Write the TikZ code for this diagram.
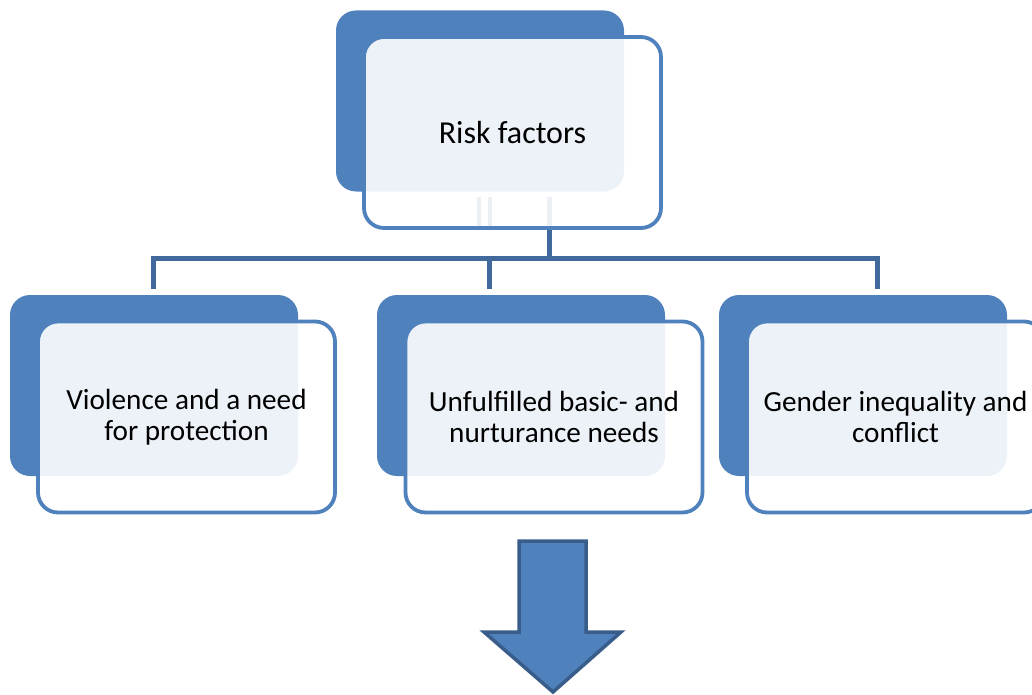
\documentclass[tikz,border=0pt]{standalone}
\usepackage{fontspec}
\setmainfont{Carlito}
\definecolor{accent}{HTML}{4F81BD}
\definecolor{accentdark}{HTML}{385D8A}
\definecolor{linkblue}{HTML}{41699C}
\tikzset{
  backbox/.style={draw=none, fill=accent, rounded corners=20pt,
    minimum width=288pt, minimum height=181pt, inner sep=0pt},
  frontbox/.style={draw=accent, line width=3.8pt, fill=white, fill opacity=0.9,
    text opacity=1, rounded corners=20pt, minimum width=297pt,
    minimum height=191pt, inner sep=0pt, align=center, text=black},
  toptext/.style={font=\fontsize{32}{34}\selectfont},
  childtext/.style={font=\fontsize{29.2}{31}\selectfont},
  conn/.style={draw=linkblue, line width=5pt},
  stub/.style={draw=linkblue, line width=4pt},
}
\begin{document}
\begin{tikzpicture}[x=1pt,y=-1pt]
\useasboundingbox (0,0) rectangle (1032,695);

% tree connectors (drawn first, so the boxes sit on top)
\coordinate (bus) at (549,258);
\coordinate (dropL) at (153,289);
\coordinate (dropM) at (489,289);
\coordinate (dropR) at (877,289);
\draw[conn] (549,197) -- (bus);
\draw[conn] (dropL) |- (dropR |- bus) -- (dropR);
\draw[conn] (dropM |- bus) -- (dropM);
\draw[stub] (479,197) -- (479,228);
\draw[stub] (490,197) -- (490,228);

% back panels
\node[backbox] (topback) at (480,101) {};
\node[backbox] (leftback) at (154,385.5) {};
\node[backbox] (midback) at (521,385.5) {};
\node[backbox] (rightback) at (863,385.5) {};

% front panels with the labels
\node[frontbox, toptext] (top) at (512.5,132.5) {Risk factors};
\node[frontbox, childtext] (left) at (186.5,417) {Violence and a need\\for protection};
\node[frontbox, childtext] (mid) at (554,417) {Unfulfilled basic- and\\nurturance needs};
\node[frontbox, childtext] (right) at (895.5,417) {Gender inequality and\\conflict};

% block arrow pointing down
\draw[fill=accent, draw=accentdark, line width=3.5pt, line join=miter]
  (519,541) -- (586,541) -- (586,632) -- (621,632) -- (553,692)
  -- (484,632) -- (519,632) -- cycle;
\end{tikzpicture}
\end{document}
